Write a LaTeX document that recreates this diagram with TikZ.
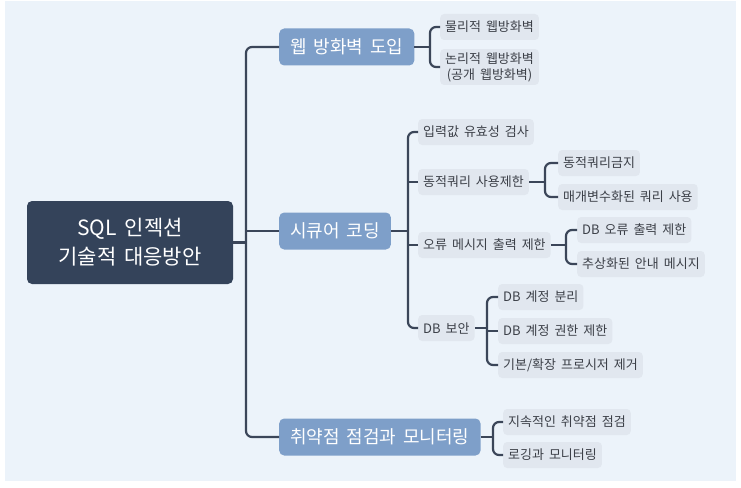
\documentclass[tikz,border=0pt]{standalone}
\usepackage{fontspec}
\setmainfont[WordSpace=1.7]{Noto Sans CJK KR}
\usetikzlibrary{positioning,calc}
\definecolor{bgblue}{HTML}{ECF3FA}
\definecolor{rootfill}{HTML}{34435A}
\definecolor{branchfill}{HTML}{7E9FC9}
\definecolor{leaffill}{HTML}{E1E7EF}
\definecolor{leaftext}{HTML}{3C4048}
\definecolor{linkcol}{HTML}{3B4659}

\begin{document}
\begin{tikzpicture}[x=1pt,y=-1pt,
  rootbox/.style={fill=rootfill,text=white,rounded corners=5pt,align=center,
    minimum width=206pt,minimum height=83pt,font=\fontsize{21}{29}\selectfont},
  branchbox/.style={fill=branchfill,text=white,rounded corners=5pt,anchor=west,
    minimum height=37pt,inner xsep=11pt,font=\fontsize{18}{21}\selectfont},
  leafbox/.style={fill=leaffill,text=leaftext,rounded corners=4pt,anchor=west,
    minimum height=26pt,inner xsep=5pt,align=center,font=\fontsize{13}{16}\selectfont},
  link/.style={draw=linkcol,line width=2.2pt,rounded corners=6pt}]
\useasboundingbox (0,0) rectangle (741,487);
\fill[bgblue] (5,1) rectangle (736,481);

% root and main branches
\node[rootbox] (root) at (130,242.5) {SQL 인젝션\\기술적 대응방안};
\node[branchbox] (waf) at (279,47) {웹 방화벽 도입};
\node[branchbox] (secure) at (279,231) {시큐어 코딩};
\node[branchbox] (vuln) at (279,437) {취약점 점검과 모니터링};
\coordinate (hub) at (246,242.5);
\draw[link] (waf.west) -| (hub) |- (vuln.west);
\draw[link] (root.east) -- (hub);
\draw[link] (secure.west) -- (secure.west -| hub);

% web firewall
\node[leafbox] (wafphys) at (440,27) {물리적 웹방화벽};
\node[leafbox] (waflogic) at (440,67) {논리적 웹방화벽\\(공개 웹방화벽)};
\coordinate (waffork) at (430,47);
\draw[link] (waf.east) -- (waffork);
\draw[link] (wafphys.west) -| (waffork) |- (waflogic.west);

% secure coding
\node[leafbox] (input) at (418,132) {입력값 유효성 검사};
\node[leafbox] (dynq) at (418,182) {동적쿼리 사용제한};
\node[leafbox] (errmsg) at (418,245) {오류 메시지 출력 제한};
\node[leafbox] (dbsec) at (418,328) {DB 보안};
\coordinate (securefork) at (408,231);
\draw[link] (secure.east) -- (securefork);
\draw[link] (input.west) -| (securefork) |- (dbsec.west);
\foreach \n in {dynq,errmsg}
  \draw[link] (\n.west) -- (\n.west -| securefork);

\node[leafbox] (dynban) at (558,163) {동적쿼리금지};
\node[leafbox] (param) at (558,197) {매개변수화된 쿼리 사용};
\coordinate (dynfork) at (545,182);
\draw[link] (dynq.east) -- (dynfork);
\draw[link] (dynban.west) -| (dynfork) |- (param.west);

\node[leafbox] (dberr) at (577,230) {DB 오류 출력 제한};
\node[leafbox] (abstract) at (577,264) {추상화된 안내 메시지};
\coordinate (errfork) at (566,245);
\draw[link] (errmsg.east) -- (errfork);
\draw[link] (dberr.west) -| (errfork) |- (abstract.west);

\node[leafbox] (acctsep) at (498,297) {DB 계정 분리};
\node[leafbox] (acctperm) at (498,331) {DB 계정 권한 제한};
\node[leafbox] (procdel) at (498,365) {기본/확장 프로시저 제거};
\coordinate (dbfork) at (487,328);
\draw[link] (dbsec.east) -- (dbfork);
\draw[link] (acctsep.west) -| (dbfork) |- (procdel.west);
\draw[link] (acctperm.west) -- (acctperm.west -| dbfork);

% vulnerability check and monitoring
\node[leafbox] (check) at (503,422) {지속적인 취약점 점검};
\node[leafbox] (logging) at (503,455) {로깅과 모니터링};
\coordinate (vulnfork) at (493,437);
\draw[link] (vuln.east) -- (vulnfork);
\draw[link] (check.west) -| (vulnfork) |- (logging.west);
\end{tikzpicture}
\end{document}
